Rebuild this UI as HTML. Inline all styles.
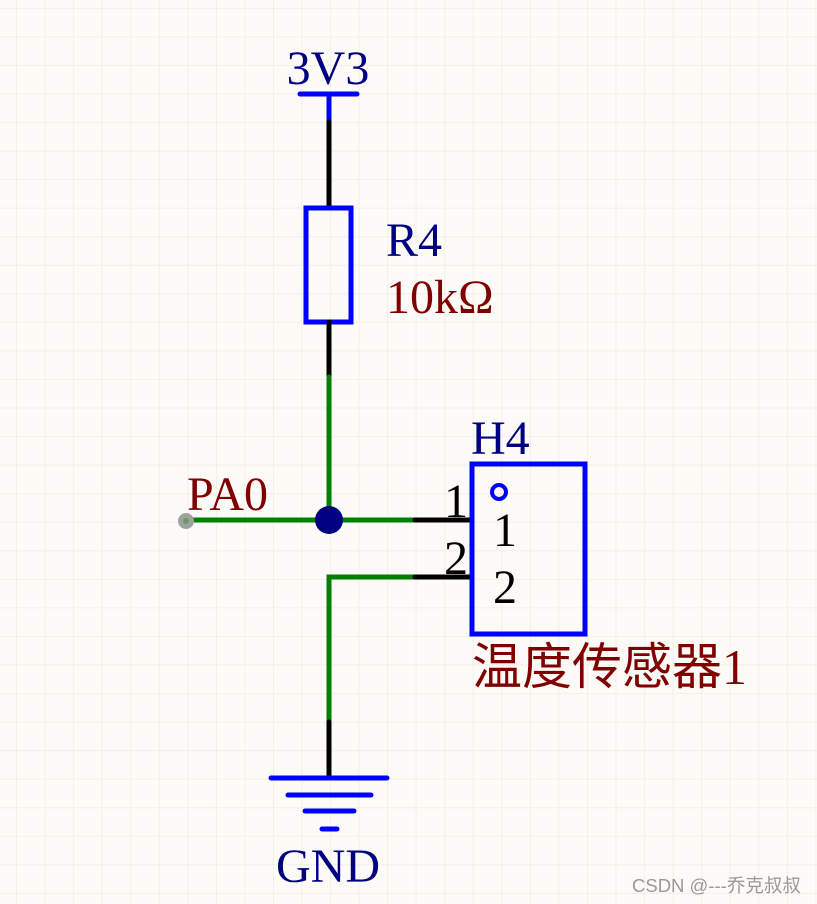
<!DOCTYPE html>
<html><head><meta charset="utf-8"><style>
html,body{margin:0;padding:0;background:#fdfbf7;}
svg{display:block;}
</style></head><body>
<svg width="817" height="904" viewBox="0 0 817 904" xmlns="http://www.w3.org/2000/svg">
<defs>
<pattern id="g" x="16.05" y="7.9" width="28.55" height="28.55" patternUnits="userSpaceOnUse">
<path d="M0 0H28.55M0 0V28.55" stroke="#f0ece5" stroke-width="1.5" fill="none"/>
</pattern>
</defs>
<rect width="817" height="904" fill="#fdfbf7"/>
<rect width="817" height="904" fill="url(#g)"/>
<g stroke-linecap="round" fill="none">
<line x1="300" y1="94" x2="357" y2="94" stroke="#0000ff" stroke-width="5"/>
<line x1="329" y1="94" x2="329" y2="122" stroke="#0000ff" stroke-width="5"/>
<line x1="329" y1="122" x2="329" y2="208" stroke="#000" stroke-width="5"/>
<rect x="306" y="208" width="45" height="114" stroke="#0000ff" stroke-width="5"/>
<line x1="329" y1="322" x2="329" y2="377" stroke="#000" stroke-width="5"/>
<line x1="329" y1="377" x2="329" y2="520" stroke="#008000" stroke-width="5"/>
<line x1="186" y1="520" x2="415" y2="520" stroke="#008000" stroke-width="5"/>
<line x1="415" y1="520" x2="471" y2="520" stroke="#000" stroke-width="5"/>
<polyline points="415,577 329,577 329,722" stroke="#008000" stroke-width="5" stroke-linecap="butt"/>
<line x1="415" y1="577" x2="471" y2="577" stroke="#000" stroke-width="5"/>
<line x1="329" y1="722" x2="329" y2="778" stroke="#000" stroke-width="5"/>
<line x1="271" y1="778" x2="387" y2="778" stroke="#0000ff" stroke-width="5"/>
<line x1="288" y1="795" x2="371" y2="795" stroke="#0000ff" stroke-width="5"/>
<line x1="305" y1="811" x2="354" y2="811" stroke="#0000ff" stroke-width="5"/>
<line x1="322" y1="829" x2="337" y2="829" stroke="#0000ff" stroke-width="5"/>
<rect x="472" y="464" width="113" height="170" stroke="#0000ff" stroke-width="5"/>
<circle cx="499" cy="492" r="7" stroke="#0000ff" stroke-width="4"/>
</g>
<circle cx="329" cy="520" r="14" fill="#000080"/>
<circle cx="186" cy="521" r="8" fill="#a0a0a0"/>
<circle cx="186" cy="521" r="3" fill="#6a9a6a"/>
<g font-family="Liberation Serif, serif" font-size="48">
<text x="328" y="84" fill="#000080" text-anchor="middle">3V3</text>
<text x="386" y="256" fill="#000080">R4</text>
<text x="386" y="313" fill="#800000">10kΩ</text>
<text x="187" y="510" fill="#800000">PA0</text>
<text x="471" y="454" fill="#000080">H4</text>
<text x="328" y="882" fill="#000080" text-anchor="middle">GND</text>
<text x="444" y="517" fill="#000">1</text>
<text x="444" y="574" fill="#000">2</text>
<text x="493" y="546" fill="#000">1</text>
<text x="493" y="603" fill="#000">2</text>
<text x="472" y="684" fill="#800000" font-family="Liberation Serif, 'Noto Sans CJK SC', sans-serif" font-size="50">温度传感器1</text>
</g>
<text x="632" y="892" fill="#999" font-family="Liberation Sans, 'Noto Sans CJK SC', sans-serif" font-size="18.5">CSDN @---乔克叔叔</text>
</svg>
</body></html>
